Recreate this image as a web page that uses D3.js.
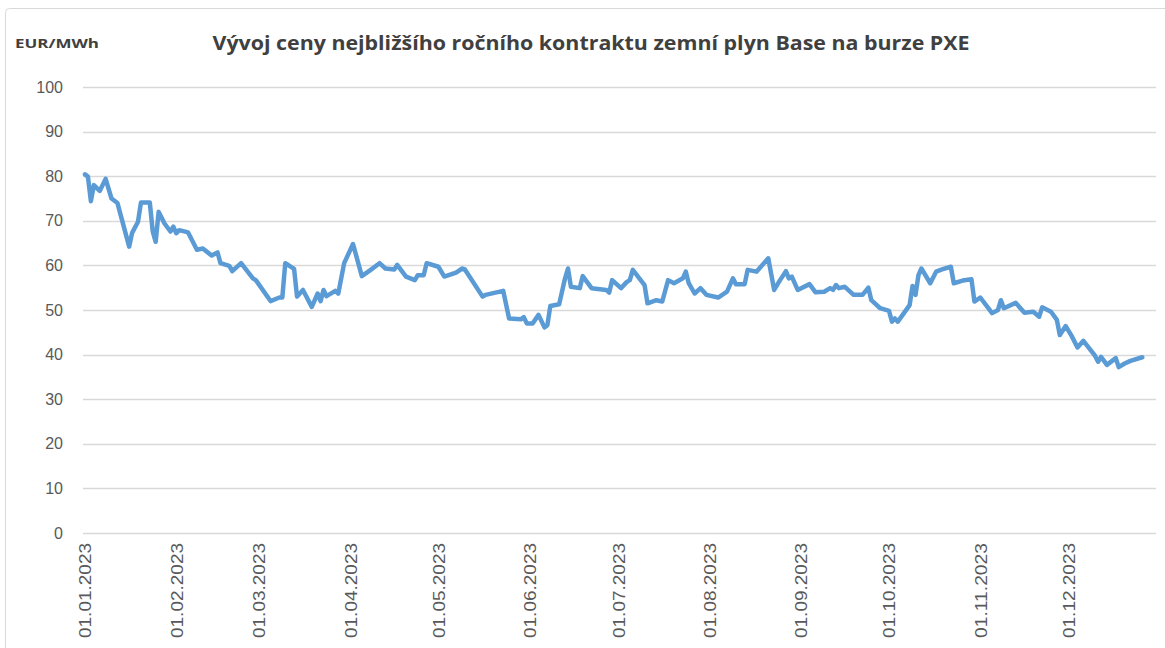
<!DOCTYPE html>
<html>
<head>
<meta charset="utf-8">
<script src="https://cdn.jsdelivr.net/npm/d3@7"></script>
<style>
  body{margin:0;background:#fff;}
  svg text{font-family:"Liberation Sans",Arial,sans-serif;}
</style>
</head>
<body>
<div class="box"></div>
<script>
const title='Vývoj ceny nejbližšího ročního kontraktu zemní plyn Base na burze PXE';
const unit='EUR/MWh';
const yTicks=[0,10,20,30,40,50,60,70,80,90,100];
const monthTicks=['2023-01-01','2023-02-01','2023-03-01','2023-04-01','2023-05-01','2023-06-01',
  '2023-07-01','2023-08-01','2023-09-01','2023-10-01','2023-11-01','2023-12-01'];

// dny obchodovani
const dates=[
 '2023-01-01','2023-01-02','2023-01-03','2023-01-04','2023-01-06','2023-01-08','2023-01-10','2023-01-12',
 '2023-01-16','2023-01-17','2023-01-19','2023-01-20','2023-01-23','2023-01-24','2023-01-25','2023-01-26',
 '2023-01-28','2023-01-30','2023-01-31','2023-02-01','2023-02-02','2023-02-05','2023-02-08','2023-02-10',
 '2023-02-13','2023-02-15','2023-02-16','2023-02-19','2023-02-20','2023-02-23','2023-02-27','2023-02-28',
 '2023-03-05','2023-03-08','2023-03-09','2023-03-10','2023-03-13','2023-03-14','2023-03-16','2023-03-19',
 '2023-03-21','2023-03-22','2023-03-23','2023-03-24','2023-03-27','2023-03-28','2023-03-30','2023-04-02',
 '2023-04-05','2023-04-08','2023-04-11','2023-04-13','2023-04-16','2023-04-17','2023-04-20','2023-04-23',
 '2023-04-24','2023-04-26','2023-04-27','2023-05-01','2023-05-03','2023-05-07','2023-05-09','2023-05-10',
 '2023-05-16','2023-05-17','2023-05-23','2023-05-25','2023-05-29','2023-05-30','2023-05-31','2023-06-02',
 '2023-06-04','2023-06-06','2023-06-07','2023-06-08','2023-06-11','2023-06-13','2023-06-14','2023-06-15',
 '2023-06-18','2023-06-19','2023-06-22','2023-06-27','2023-06-28','2023-06-29','2023-07-02','2023-07-04',
 '2023-07-05','2023-07-06','2023-07-10','2023-07-11','2023-07-14','2023-07-16','2023-07-18','2023-07-20',
 '2023-07-23','2023-07-24','2023-07-25','2023-07-27','2023-07-29','2023-07-31','2023-08-04','2023-08-07',
 '2023-08-09','2023-08-10','2023-08-13','2023-08-14','2023-08-17','2023-08-21','2023-08-23','2023-08-25',
 '2023-08-27','2023-08-28','2023-08-29','2023-08-31','2023-09-04','2023-09-06','2023-09-09','2023-09-11',
 '2023-09-12','2023-09-13','2023-09-14','2023-09-16','2023-09-19','2023-09-22','2023-09-24','2023-09-25',
 '2023-09-28','2023-10-01','2023-10-02','2023-10-03','2023-10-04','2023-10-08','2023-10-09','2023-10-10',
 '2023-10-11','2023-10-12','2023-10-15','2023-10-17','2023-10-19','2023-10-22','2023-10-23','2023-10-26',
 '2023-10-29','2023-10-30','2023-11-01','2023-11-05','2023-11-07','2023-11-08','2023-11-09','2023-11-13',
 '2023-11-16','2023-11-19','2023-11-21','2023-11-22','2023-11-25','2023-11-27','2023-11-28','2023-11-30',
 '2023-12-02','2023-12-04','2023-12-06','2023-12-10','2023-12-11','2023-12-12','2023-12-14','2023-12-17',
 '2023-12-18','2023-12-20','2023-12-22','2023-12-26'
];
const prices=[
 80.4,79.9,74.4,78.0,76.7,79.4,75.0,74.0,
 64.2,67.3,69.8,74.1,74.1,67.6,65.3,72.0,
 69.4,67.6,68.7,67.2,67.9,67.4,63.5,63.8,
 62.2,62.9,60.5,59.9,58.7,60.5,57.1,56.7,
 52.0,52.8,52.8,60.5,59.2,53.0,54.5,50.7,
 53.7,52.0,54.5,53.1,54.3,53.7,60.5,64.8,
 57.6,59.0,60.5,59.3,59.1,60.1,57.5,56.7,
 57.8,57.8,60.5,59.7,57.5,58.4,59.3,59.1,
 53.0,53.4,54.3,48.1,47.9,48.4,47.0,47.0,
 48.9,46.1,46.6,50.9,51.3,57.1,59.3,55.2,
 54.9,57.6,54.9,54.5,53.9,56.7,54.9,56.3,
 56.7,59.0,55.6,51.5,52.2,51.9,56.7,56.0,
 57.1,58.6,56.0,53.7,54.9,53.4,52.8,54.1,
 57.1,55.8,55.8,59.0,58.6,61.6,54.5,56.7,
 58.7,57.1,57.5,54.5,55.8,54.0,54.1,54.9,
 54.5,55.6,54.9,55.2,53.4,53.4,55.0,52.2,
 50.4,49.8,47.4,48.1,47.4,51.1,55.4,53.4,
 57.8,59.3,56.0,58.6,59.1,59.7,56.0,56.6,
 56.9,51.9,52.8,49.3,50.0,52.2,50.4,51.6,
 49.4,49.6,48.5,50.6,49.6,47.8,44.4,46.4,
 44.2,41.6,43.1,39.7,38.4,39.5,37.7,39.2,
 37.2,38.0,38.6,39.4
];

const parse=d3.timeParse('%Y-%m-%d');
const fmt=d3.timeFormat('%d.%m.%Y');
const data=dates.map((d,i)=>({date:parse(d),value:prices[i]}));

const W=1165,H=648;
const svg=d3.select('.box').append('svg')
    .attr('width',W).attr('height',H);

// ramecek grafu
svg.append('rect')
    .attr('x',5.5).attr('y',8.5)
    .attr('width',W+20).attr('height',H+20)
    .attr('rx',4)
    .attr('fill','none')
    .attr('stroke','#d9d9d9');

const x=d3.scaleTime()
    .domain([parse('2023-01-01'),parse('2023-12-31')])
    .range([85,1157]);
const y=d3.scaleLinear()
    .domain([0,100])
    .range([533,87]);

// mrizka
svg.append('g')
    .selectAll('line')
    .data(yTicks)
    .enter().append('line')
    .attr('x1',83).attr('x2',1156)
    .attr('y1',d=>Math.round(y(d))+0.5)
    .attr('y2',d=>Math.round(y(d))+0.5)
    .attr('stroke','#d9d9d9')
    .attr('stroke-width',1.3);

const yAxis=svg.append('g')
    .attr('transform','translate(83,0)')
    .call(d3.axisLeft(y).tickValues(yTicks).tickSize(0).tickPadding(20));
yAxis.select('.domain').remove();
yAxis.selectAll('text')
    .attr('font-size',16)
    .attr('fill','#595959')
    .style('font-family','"Liberation Sans",Arial,sans-serif');

const xAxis=svg.append('g')
    .attr('transform','translate(0,533)')
    .call(d3.axisBottom(x).tickValues(monthTicks.map(parse)).tickFormat(fmt).tickSize(0));
xAxis.select('.domain').remove();
xAxis.selectAll('text')
    .attr('font-size',17)
    .attr('fill','#595959')
    .attr('transform','rotate(-90)')
    .attr('text-anchor','end')
    .attr('x',-10)
    .attr('y',0)
    .attr('dy','0.35em')
    .attr('textLength',95)
    .attr('lengthAdjust','spacingAndGlyphs')
    .style('font-family','"Liberation Sans",Arial,sans-serif');

const line=d3.line()
    .x(d=>x(d.date))
    .y(d=>y(d.value));

svg.append('path')
    .datum(data)
    .attr('d',line)
    .attr('fill','none')
    .attr('stroke','#5b9bd5')
    .attr('stroke-width',4.5)
    .attr('stroke-linejoin','round')
    .attr('stroke-linecap','round');

svg.append('text')
    .attr('x',591).attr('y',50)
    .attr('text-anchor','middle')
    .attr('font-size',19)
    .attr('font-weight','bold')
    .attr('fill','#404040')
    .attr('textLength',757)
    .attr('lengthAdjust','spacingAndGlyphs')
    .style('font-family','"Open Sans",sans-serif')
    .text(title);

svg.append('text')
    .attr('x',15).attr('y',48)
    .attr('font-size',13)
    .attr('font-weight','bold')
    .attr('fill','#404040')
    .attr('textLength',84)
    .attr('lengthAdjust','spacingAndGlyphs')
    .style('font-family','"Open Sans",sans-serif')
    .text(unit);
</script>
</body>
</html>
